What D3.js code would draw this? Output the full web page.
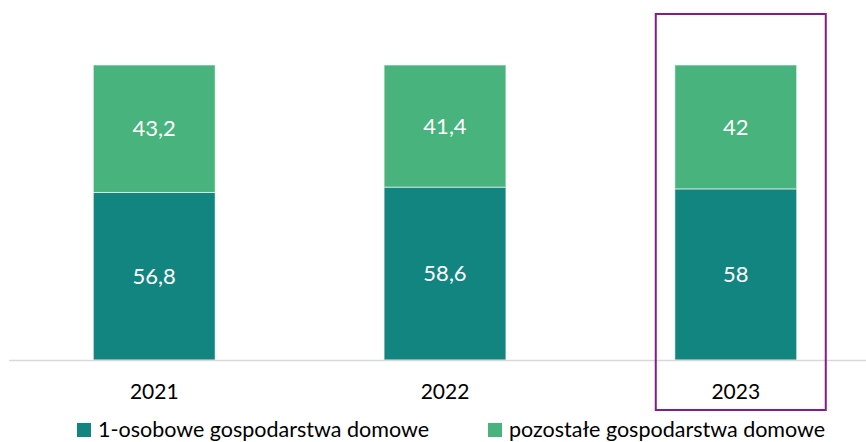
<!DOCTYPE html>
<html>
<head>
<meta charset="utf-8">
<script src="https://cdn.jsdelivr.net/npm/d3@7/dist/d3.min.js"></script>
<style>
  html, body { margin: 0; padding: 0; background: #fff; }
  svg { display: block; font-family: Lato, "Open Sans", sans-serif; }
</style>
</head>
<body>
<svg id="chart" width="866" height="442"></svg>
<script>
// Household structure by year (percent shares)
const years = ["2021", "2022", "2023"];
const onePerson = [56.8, 58.6, 58];
const otherHouseholds = [43.2, 41.4, 42];
const seriesNames = ["1-osobowe gospodarstwa domowe", "pozostałe gospodarstwa domowe"];
const seriesColors = ["#138580", "#48B37C"];
const highlightYear = "2023";

const fmt = v => String(v).replace(".", ",");

const svg = d3.select("#chart");
const baseY = 360;
const topY = 65;

const x = d3.scaleBand()
  .domain(years)
  .range([9, 881])
  .paddingInner(0.581)
  .paddingOuter(0.29);

const y = d3.scaleLinear().domain([0, 100]).range([baseY, topY]);

const rows = years.map((yr, i) => ({ year: yr, a: onePerson[i], b: otherHouseholds[i] }));
const keys = ["a", "b"];
const stacked = d3.stack().keys(keys)(rows);

// Stacked bars with value labels
const g = svg.append("g");
stacked.forEach((layer, li) => {
  g.selectAll(null).data(layer).enter().append("rect")
    .attr("x", d => x(d.data.year))
    .attr("width", x.bandwidth())
    .attr("y", d => y(d[1]))
    .attr("height", d => y(d[0]) - y(d[1]))
    .attr("fill", seriesColors[li])
    .attr("stroke", "#ffffff")
    .attr("stroke-opacity", 0.6)
    .attr("stroke-width", 1);

  g.selectAll(null).data(layer).enter().append("text")
    .attr("x", d => x(d.data.year) + x.bandwidth() / 2)
    .attr("y", d => (y(d[0]) + y(d[1])) / 2)
    .attr("dy", "0.35em")
    .attr("text-anchor", "middle")
    .attr("fill", "#ffffff")
    .attr("font-size", 22)
    .text(d => fmt(d.data[keys[li]]));
});

// Category axis
const axis = d3.axisBottom(x).tickSize(0).tickPadding(0);
const ax = svg.append("g").attr("transform", `translate(0,${baseY})`).call(axis);
ax.select(".domain").remove();
ax.selectAll("text")
  .attr("font-family", "Lato, 'Open Sans', sans-serif")
  .attr("font-size", 21)
  .attr("fill", "#000")
  .attr("dy", "0.35em")
  .attr("y", 32);
svg.append("line")
  .attr("x1", 9).attr("x2", 866)
  .attr("y1", baseY + 0.5).attr("y2", baseY + 0.5)
  .attr("stroke", "#d9d9d9").attr("stroke-width", 1.5);

// Highlight frame around the latest year
const hx = x(highlightYear) + x.bandwidth() / 2;
svg.append("rect")
  .attr("x", hx - 80).attr("y", 14)
  .attr("width", 170).attr("height", 396)
  .attr("fill", "none")
  .attr("stroke", "#861A8B")
  .attr("stroke-width", 2);

// Legend
const legendX = [77, 488];
const leg = svg.append("g");
seriesNames.forEach((name, i) => {
  leg.append("rect")
    .attr("x", legendX[i]).attr("y", 423)
    .attr("width", 14).attr("height", 14)
    .attr("fill", seriesColors[i]);
  leg.append("text")
    .attr("x", legendX[i] + 21).attr("y", 429)
    .attr("dy", "0.35em")
    .attr("font-size", 21.5)
    .attr("fill", "#000")
    .text(name);
});
</script>
</body>
</html>
